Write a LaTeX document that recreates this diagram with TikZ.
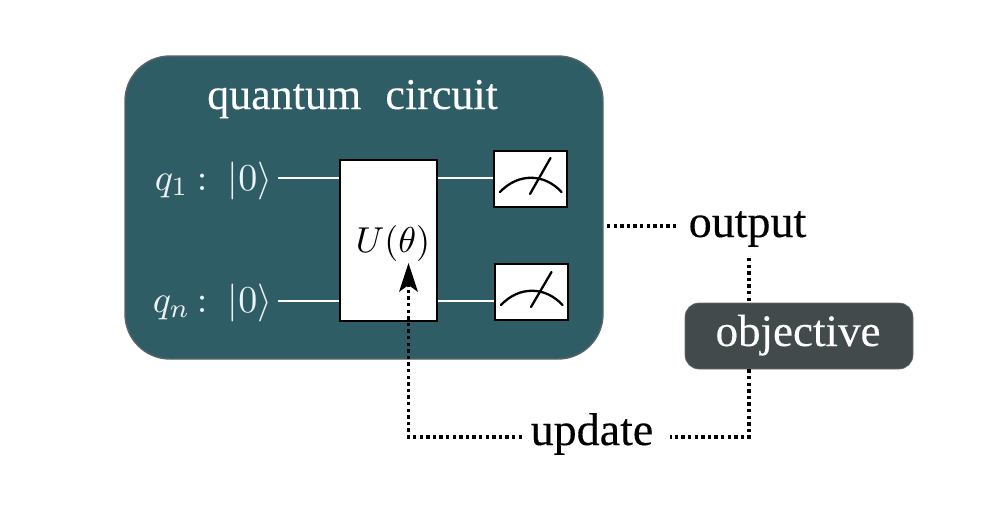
\documentclass[tikz,border=0pt]{standalone}
\usepackage[no-math]{fontspec}
\setmainfont[FakeBold=0.25]{Liberation Serif}
\usetikzlibrary{arrows.meta}
\definecolor{circuitteal}{HTML}{2F5D66}
\definecolor{circuitedge}{HTML}{5A6466}
\definecolor{objectivegrey}{HTML}{434A4C}
\newcommand{\sizedtext}[1]{\fontsize{#1}{#1}\selectfont}
\tikzset{
  x=1pt, y=-1pt,
  panel/.style={draw=circuitedge, line width=1.4pt, fill=circuitteal, rounded corners=45pt, minimum width=478pt, minimum height=303pt, inner sep=0pt},
  objectivebox/.style={fill=objectivegrey, draw=objectivegrey!80!white, line width=0.6pt, rounded corners=14pt, minimum width=228pt, minimum height=66pt, inner sep=0pt},
  gatebox/.style={draw=black, line width=2pt, fill=white, minimum width=97pt, minimum height=161pt, inner sep=0pt},
  meterbox/.style={draw=black, line width=2pt, fill=white, minimum width=73pt, minimum height=56pt, inner sep=0pt},
  wire/.style={draw=white, line width=2pt},
  needle/.style={draw=black, line width=2.3pt, line cap=round},
  dotlink/.style={draw=black, line width=3.4pt, dash pattern=on 3.4pt off 3.2pt},
  bigword/.style={font=\sizedtext{46}, inner sep=0pt, anchor=base},
  ket/.style={text=white!92!circuitteal, scale=3.8, inner sep=0pt, anchor=base west},
}
\begin{document}
\begin{tikzpicture}
\useasboundingbox (0,0) rectangle (1000,514);

% circuit panel and its title
\node[panel] (circuit) at (364,207.5) {};
\node[font=\sizedtext{44}, text=white, inner sep=0pt, anchor=base] (title) at (352.5,109) {quantum\hspace{0.3em} circuit};

% register labels
\node[ket] (labelone) at (154,190) {$q_1$};
\node[ket] (colonone) at (196,190) {$:$};
\node[ket] (ketone) at (227,190) {$|0\rangle$};
\node[ket] (labeltwo) at (152,312) {$q_n$};
\node[ket] (colontwo) at (196,312) {$:$};
\node[ket] (kettwo) at (227,312) {$|0\rangle$};

% unitary gate and detectors
\node[gatebox] (gate) at (388.5,240.5) {};
\node[scale=3.6, inner sep=0pt, anchor=base] (gatelabel) at (393,252) {$U(\theta)$};
\node[meterbox] (meterone) at (530.5,179) {};
\node[meterbox] (metertwo) at (531.5,292) {};

% wires from the kets through the gate to the detectors
\coordinate (wireonestart) at (278,178);
\coordinate (wiretwostart) at (278,301);
\draw[wire] (wireonestart) -- (wireonestart -| gate.west);
\draw[wire] (wiretwostart) -- (wiretwostart -| gate.west);
\draw[wire] (wireonestart -| gate.east) -- (wireonestart -| meterone.west);
\draw[wire] (wiretwostart -| gate.east) -- (wiretwostart -| metertwo.west);

% detector dials
\draw[needle] (500,192) .. controls (518,173) and (544,173) .. (561.5,192);
\draw[needle] (530,194) -- (550.5,158);
\draw[needle] (501,305) .. controls (519,286) and (545,286) .. (562.5,305);
\draw[needle] (531,307) -- (551.5,272);

% classical side
\node[bigword] (output) at (747.5,237) {output};
\node[objectivebox] (objective) at (799,336) {};
\node[font=\sizedtext{45}, text=white, inner sep=0pt, anchor=base] (objectivelabel) at (798,346) {objective};
\node[bigword] (update) at (592,445) {update};

% feedback loop
\coordinate (outputstart) at (607,226);
\coordinate (outputend) at (678,226);
\coordinate (objectivetop) at (749,258);
\coordinate (loopcorner) at (749,437);
\coordinate (updateright) at (670,437);
\coordinate (updateleft) at (522,437);
\coordinate (tip) at (408.5,263);
\draw[dotlink] (outputstart) -- (outputend);
\draw[dotlink] (objectivetop) -- (objectivetop |- objective.north);
\draw[dotlink] (objectivetop |- objective.south) -- (loopcorner) -- (updateright);
\draw[dotlink] (updateleft) -- (tip |- updateleft) -- (408.5,285);
\fill[black] (tip) -- (418,292) -- (408.5,285) -- (399,292) -- cycle;
\end{tikzpicture}
\end{document}
